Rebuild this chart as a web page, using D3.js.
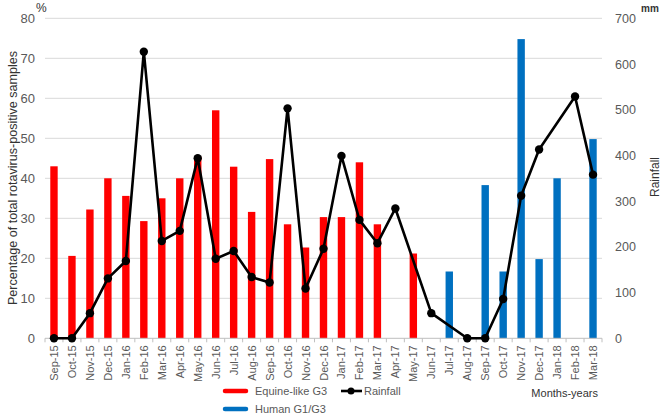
<!DOCTYPE html>
<html><head><meta charset="utf-8">
<script src="https://cdn.jsdelivr.net/npm/d3@7"></script>
<style>body{margin:0;background:#fff}svg{display:block}text{font-family:"Liberation Sans",Arial,sans-serif}</style>
</head><body>
<svg id="c" width="666" height="417"></svg>
<script>
const months = ["Sep-15","Oct-15","Nov-15","Dec-15","Jan-16","Feb-16","Mar-16","Apr-16","May-16","Jun-16","Jul-16","Aug-16","Sep-16","Oct-16","Nov-16","Dec-16","Jan-17","Feb-17","Mar-17","Apr-17","May-17","Jun-17","Jul-17","Aug-17","Sep-17","Oct-17","Nov-17","Dec-17","Jan-18","Feb-18","Mar-18"];
const equineG3 = [43,20.6,32.2,40,35.6,29.3,35,40,45.4,57,42.9,31.6,44.8,28.5,22.7,30.3,30.3,44,28.5,0,21.2,0,0,0,0,0,0,0,0,0,0];
const humanG1G3 = [0,0,0,0,0,0,0,0,0,0,0,0,0,0,0,0,0,0,0,0,0,0,16.7,0,38.3,16.7,74.8,19.8,40,0,49.8];
const rainfall = [0,0,55,131,169,627,213,235,394,174,191,134,122,503,109,196,399,259,208,284,null,55,null,0,0,86,312,413,null,529,358];
const leftTicks = [0,10,20,30,40,50,60,70,80];
const rightTicks = [0,100,200,300,400,500,600,700];

const svg = d3.select("#c");
const L=45, R=602, T=18.3, B=338.3;
const x = d3.scaleBand().domain(months).range([L,R]);
const yL = d3.scaleLinear().domain([0,80]).range([B,T]);
const yR = d3.scaleLinear().domain([0,700]).range([B,T]);
const grey="#595959";

// gridlines
svg.append("g").selectAll("line").data(leftTicks.slice(1)).join("line")
  .attr("x1",L).attr("x2",R).attr("y1",d=>yL(d)).attr("y2",d=>yL(d))
  .attr("stroke","#d9d9d9").attr("stroke-width",1);

// left axis labels
svg.append("g").selectAll("text").data(leftTicks).join("text")
  .attr("x",35).attr("y",d=>yL(d)+4.5).attr("text-anchor","end")
  .attr("font-size",13).attr("fill",grey).text(d=>d);
// right axis labels
svg.append("g").selectAll("text").data(rightTicks).join("text")
  .attr("x",615).attr("y",d=>yR(d)+4.5).attr("text-anchor","start")
  .attr("font-size",12.5).attr("fill",grey).text(d=>d);

const bw=7.4;
svg.append("g").selectAll("rect").data(months.map((m,i)=>({m,v:equineG3[i]})).filter(d=>d.v>0)).join("rect")
  .attr("x",d=>x(d.m)+x.bandwidth()/2-bw/2).attr("width",bw)
  .attr("y",d=>yL(d.v)).attr("height",d=>B-yL(d.v)).attr("fill","#ff0000");
svg.append("g").selectAll("rect").data(months.map((m,i)=>({m,v:humanG1G3[i]})).filter(d=>d.v>0)).join("rect")
  .attr("x",d=>x(d.m)+x.bandwidth()/2-bw/2).attr("width",bw)
  .attr("y",d=>yL(d.v)).attr("height",d=>B-yL(d.v)).attr("fill","#0070c0");

// bottom axis
const xAxis = svg.append("g").attr("transform",`translate(0,${B})`);
xAxis.append("line").attr("x1",L).attr("x2",R).attr("y1",0).attr("y2",0).attr("stroke","#bfbfbf");
xAxis.selectAll("line.t").data(d3.range(months.length+1)).join("line").attr("class","t")
  .attr("x1",i=>L+i*x.step()).attr("x2",i=>L+i*x.step()).attr("y1",0).attr("y2",4).attr("stroke","#bfbfbf");
xAxis.selectAll("text").data(months).join("text")
  .attr("transform",d=>`translate(${x(d)+x.bandwidth()/2+4},7) rotate(-90)`)
  .attr("text-anchor","end").attr("font-size",11).attr("fill",grey).text(d=>d);

// rainfall line
const pts = months.map((m,i)=>({m,v:rainfall[i]})).filter(d=>d.v!==null);
const line = d3.line().x(d=>x(d.m)+x.bandwidth()/2).y(d=>yR(d.v));
svg.append("path").datum(pts).attr("d",line).attr("fill","none").attr("stroke","#000").attr("stroke-width",2.6).attr("stroke-linejoin","round");
svg.append("g").selectAll("circle").data(pts).join("circle")
  .attr("cx",d=>x(d.m)+x.bandwidth()/2).attr("cy",d=>yR(d.v)).attr("r",4.2).attr("fill","#000");

// titles
svg.append("text").attr("transform","translate(17,178) rotate(-90)").attr("text-anchor","middle")
  .attr("font-size",12).attr("textLength",254).attr("lengthAdjust","spacingAndGlyphs")
  .attr("fill","#333").text("Percentage of total rotavirus-positive samples");
svg.append("text").attr("transform","translate(659,177) rotate(-90)").attr("text-anchor","middle")
  .attr("font-size",12).attr("fill","#333").text("Rainfall");
svg.append("text").attr("x",36).attr("y",12).attr("font-size",12).attr("fill","#333").text("%");
svg.append("text").attr("x",641).attr("y",12).attr("font-size",10).attr("font-weight","bold").attr("fill","#333").text("mm");
svg.append("text").attr("x",598).attr("y",397).attr("text-anchor","end").attr("font-size",11).attr("fill","#333").text("Months-years");

// legend
const lg = svg.append("g");
lg.append("line").attr("x1",225).attr("x2",246).attr("y1",391).attr("y2",391).attr("stroke","#ff0000").attr("stroke-width",4.5).attr("stroke-linecap","round");
lg.append("text").attr("x",255).attr("y",395).attr("font-size",11).attr("fill",grey).text("Equine-like G3");
lg.append("line").attr("x1",225).attr("x2",246).attr("y1",409).attr("y2",409).attr("stroke","#0070c0").attr("stroke-width",4.5).attr("stroke-linecap","round");
lg.append("text").attr("x",255).attr("y",413).attr("font-size",11).attr("fill",grey).text("Human G1/G3");
lg.append("line").attr("x1",341).attr("x2",362).attr("y1",391).attr("y2",391).attr("stroke","#000").attr("stroke-width",2.6);
lg.append("circle").attr("cx",351).attr("cy",391).attr("r",3.5).attr("fill","#000");
lg.append("text").attr("x",364).attr("y",395).attr("font-size",11).attr("fill",grey).text("Rainfall");
</script>
</body></html>
